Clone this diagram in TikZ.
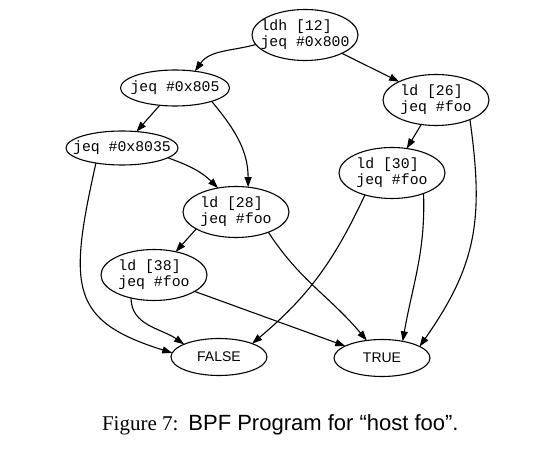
\documentclass[tikz,border=0pt]{standalone}
\usepackage{fontspec}
\setmainfont{Liberation Serif}
\setsansfont{Liberation Sans}
\setmonofont{Liberation Mono}
\usetikzlibrary{shapes.geometric, arrows.meta}
\tikzset{
    every node/.style = {inner sep=0pt, outer sep=0pt},
    insn text/.style = {align=left, font=\fontsize{14.8}{16}\ttfamily},
    insn/.style = {draw, ellipse, line width=1.1pt, minimum width=106pt, minimum height=51pt,
        label={[insn text]center:#1}},
    short insn/.style = {insn=#1, minimum width=109pt, minimum height=36pt},
    leaf/.style = {draw, ellipse, line width=1.1pt, minimum width=96pt, minimum height=37pt,
        font=\fontsize{14}{16}\sffamily},
    edge/.style = {line width=1.1pt, -{Triangle[length=10pt,width=7pt]}}
}
\begin{document}
\begin{tikzpicture}[x=1pt, y=-1pt]
    \useasboundingbox (0,0) rectangle (549,454);
    \node[insn={ldh [12]\\jeq \#0x800}] (ldh) at (305,35) {};
    \node[short insn={jeq \#0x805}] (jeq805) at (175,88) {};
    \node[insn={ld [26]\\jeq \#foo}] (ld26) at (436,100) {};
    \node[short insn={jeq \#0x8035}, minimum width=112pt, minimum height=34pt] (jeq8035) at (122,148) {};
    \node[insn={ld [30]\\jeq \#foo}] (ld30) at (392,173) {};
    \node[insn={ld [28]\\jeq \#foo}] (ld28) at (236,212) {};
    \node[insn={ld [38]\\jeq \#foo}] (ld38) at (154,275) {};
    \node[leaf] (false) at (219,357) {FALSE};
    \node[leaf] (true) at (382,358) {TRUE};
    \node[anchor=base west, font=\fontsize{21}{24}\selectfont] (caption) at (102,430)
        {Figure 7:\hspace{10pt}\fontsize{22}{24}\sffamily BPF Program for “host foo”.};

    \draw[edge] (ldh.191) to[out=195, in=55] (jeq805.40);
    \draw[edge] (ldh) -- (ld26);
    \draw[edge] (jeq805) -- (jeq8035);
    \draw[edge] (jeq805.-20) to[out=-50, in=90] (ld28.64);
    \draw[edge] (jeq8035.-12) to[out=-20, in=135] (ld28.127);
    \draw[edge] (jeq8035.210) .. controls +(-28,125) and +(-102,-32) .. (false.175);
    \draw[edge] (ld26) -- (ld30);
    \draw[edge] (ld26.-30) to[out=-82, in=55, looseness=1.1] (true.17);
    \draw[edge] (ld30.219) to[out=-115, in=40] (false.22);
    \draw[edge] (ld30.-33) to[out=-88, in=80] (true.39);
    \draw[edge] (ld28.203) -- (ld38.47);
    \draw[edge] (ld28.-32) to[out=-57, in=130] (true.131);
    \draw[edge] (ld38.225) to[out=-90, in=145] (false.160);
    \draw[edge] (ld38.-22) -- (true.162);
\end{tikzpicture}
\end{document}
